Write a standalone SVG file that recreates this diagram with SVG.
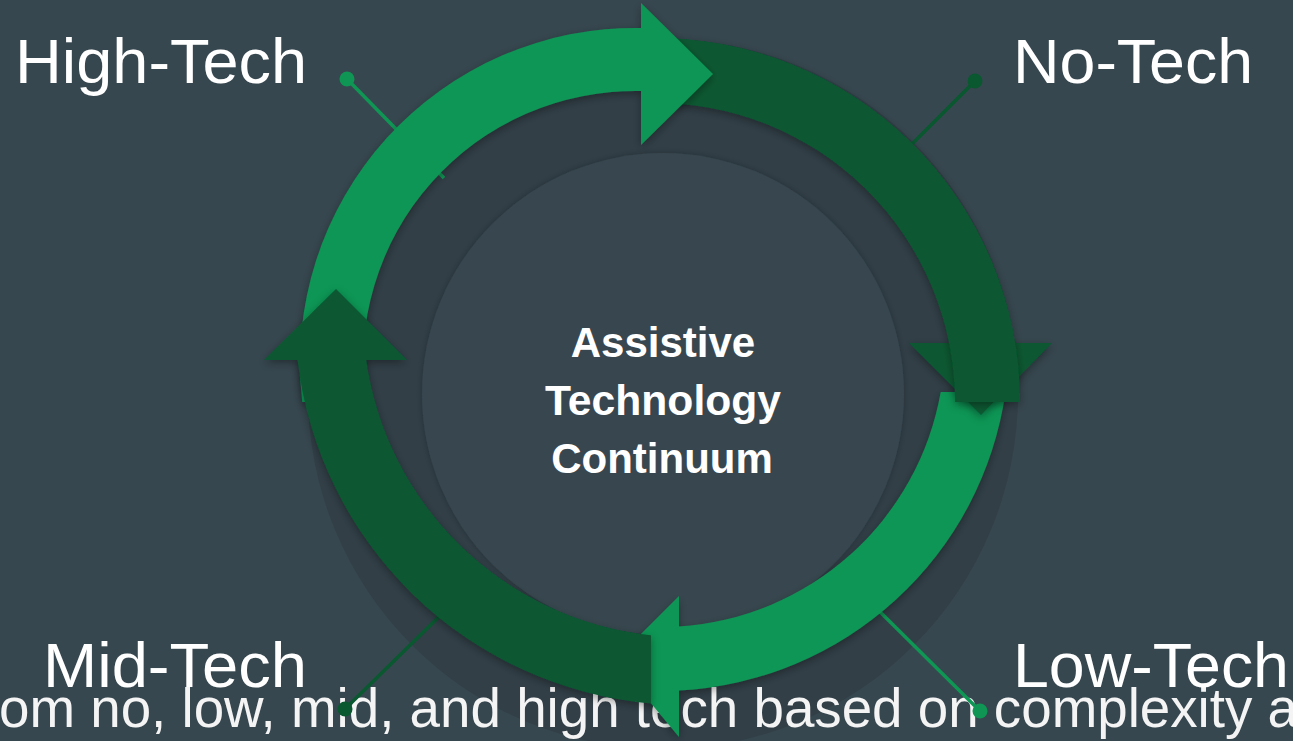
<svg xmlns="http://www.w3.org/2000/svg" width="1293" height="741" viewBox="0 0 1293 741">
  <defs>
    <style>
      .label { font-family: "Liberation Sans", Arial, sans-serif; font-size: 63px; fill: #FFFFFF; }
      .title { font-family: "Liberation Sans", Arial, sans-serif; font-size: 42px; font-weight: bold; fill: #FFFFFF; text-anchor: middle; }
      .caption { font-family: "Liberation Sans", Arial, sans-serif; font-size: 56px; fill: #F4F4F4; }
      .light { fill: #0F9654; }
      .dark { fill: #095830; }
      .lead-light { stroke: #0F9654; stroke-width: 3.5; fill: none; }
      .lead-dark { stroke: #095830; stroke-width: 3.5; fill: none; }
    </style>
    <filter id="shadow" x="-20%" y="-20%" width="140%" height="140%">
      <feDropShadow dx="0" dy="3" stdDeviation="4" flood-color="#000000" flood-opacity="0.35"/>
    </filter>
    <filter id="discShadow" x="-20%" y="-20%" width="140%" height="140%">
      <feDropShadow dx="0" dy="0" stdDeviation="3" flood-color="#000000" flood-opacity="0.25"/>
    </filter>
  </defs>

  <!-- background -->
  <rect x="0" y="0" width="1293" height="741" fill="#37474F"/>

  <!-- backing discs -->
  <g id="discs">
    <circle cx="663" cy="394" r="355" fill="#323F47"/>
    <circle cx="663" cy="394" r="241" fill="#37464F" filter="url(#discShadow)"/>
  </g>

  <!-- caption line running under the cycle -->
  <g id="caption">
    <text class="caption" x="-1" y="727" textLength="1299" lengthAdjust="spacingAndGlyphs">om no, low, mid, and high tech based on complexity a</text>
  </g>

  <!-- leader lines from labels into the ring -->
  <g id="connectors">
    <line class="lead-light" x1="347" y1="79" x2="444" y2="178"/>
    <line class="lead-dark" x1="975" y1="81" x2="882" y2="174"/>
    <line class="lead-light" x1="980" y1="711" x2="862" y2="594"/>
    <line class="lead-dark" x1="345" y1="709" x2="455" y2="601"/>
  </g>

  <!-- cycle of four curved arrows -->
  <g id="ring">
    <g id="arrow-low" filter="url(#shadow)">
      <path class="light" d="M 1005.5 392 A 348 348 0 0 1 679 690.5 L 679 737 L 615 660 L 679 596 L 679 626.4 A 284 284 0 0 0 940.7 392 Z"/>
    </g>
    <g id="arrow-no">
      <!-- head sits beneath the shaft, whose end overlaps it -->
      <path class="dark" d="M 909 343 L 1052 343 L 981 415 Z" filter="url(#shadow)"/>
      <path class="dark" d="M 650 38.05 A 364 364 0 0 1 1020 402 L 955 402 A 299 299 0 0 0 650 103.06 Z" filter="url(#shadow)"/>
    </g>
    <g id="arrow-high" filter="url(#shadow)">
      <path class="light" d="M 302.3 402 A 335 335 0 0 1 641 28.05 L 641 3 L 713 74 L 641 145 L 641 91.1 A 272 272 0 0 0 365.8 402 Z"/>
    </g>
    <g id="arrow-mid" filter="url(#shadow)">
      <path class="dark" d="M 651 703.5 A 390 390 0 0 1 297.6 360 L 264 360 L 336 289 L 407 360 L 366.2 360 A 322 322 0 0 0 651 635.2 Z"/>
    </g>
  </g>

  <!-- stage labels with their anchor dots -->
  <g id="node-high-tech">
    <text class="label" x="15" y="83" textLength="292" lengthAdjust="spacingAndGlyphs">High-Tech</text>
    <circle cx="347" cy="79" r="7.5" class="light"/>
  </g>
  <g id="node-no-tech">
    <text class="label" x="1013" y="83" textLength="240" lengthAdjust="spacingAndGlyphs">No-Tech</text>
    <circle cx="975" cy="81" r="7.5" class="dark"/>
  </g>
  <g id="node-low-tech">
    <text class="label" x="1013" y="687" textLength="276" lengthAdjust="spacingAndGlyphs">Low-Tech</text>
    <circle cx="980" cy="711" r="7.5" class="light"/>
  </g>
  <g id="node-mid-tech">
    <text class="label" x="43" y="687" textLength="264" lengthAdjust="spacingAndGlyphs">Mid-Tech</text>
    <circle cx="345" cy="709" r="7.5" class="dark"/>
  </g>

  <!-- centre title -->
  <g id="node-center">
    <text class="title" x="663" y="357">Assistive</text>
    <text class="title" x="663" y="415" textLength="236" lengthAdjust="spacingAndGlyphs">Technology</text>
    <text class="title" x="662" y="473">Continuum</text>
  </g>
</svg>
